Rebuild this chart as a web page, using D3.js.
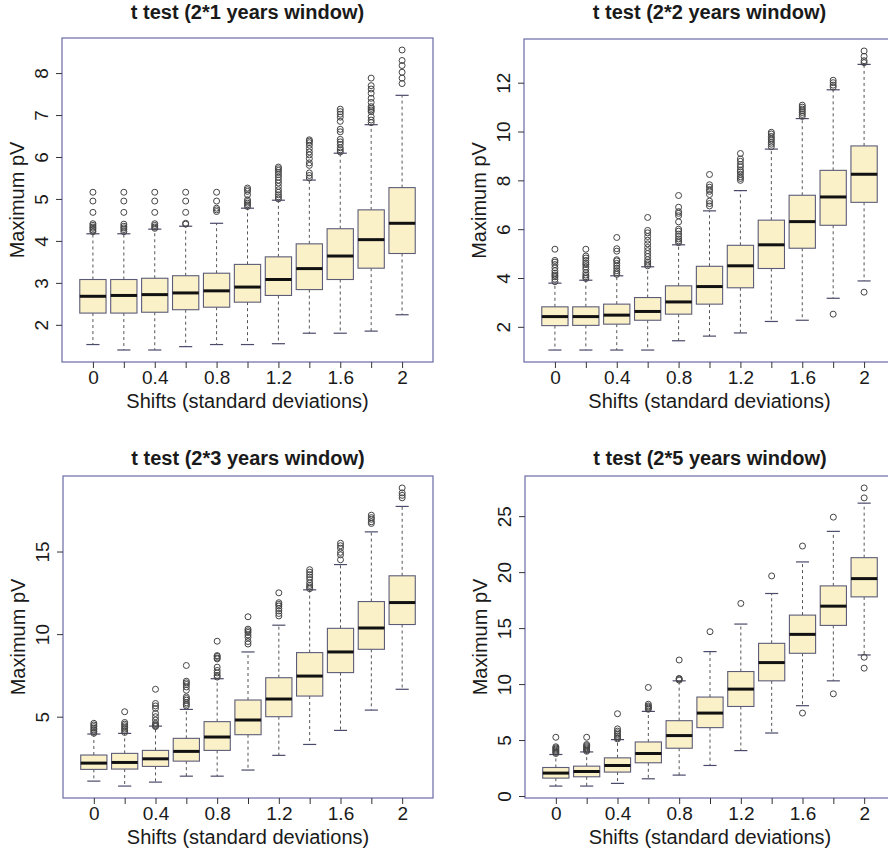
<!DOCTYPE html>
<html>
<head>
<meta charset="utf-8">
<title>t test boxplots</title>
<script src="https://d3js.org/d3.v7.min.js"></script>
<style>
  body { margin: 0; background: #fff; }
  svg text { font-family: 'Liberation Sans', Arial, sans-serif; fill: #1a1a1a; }
</style>
</head>
<body>
<svg id="chart" width="888" height="853"></svg>
<script>
// shifts (standard deviations), one box per shift
const shifts = [0, 0.2, 0.4, 0.6, 0.8, 1.0, 1.2, 1.4, 1.6, 1.8, 2.0];
const labelledShifts = [0, 0.4, 0.8, 1.2, 1.6, 2];
const titles = ["t test (2*1 years window)", "t test (2*2 years window)",
                "t test (2*3 years window)", "t test (2*5 years window)"];
const yTicks1 = [2, 3, 4, 5, 6, 7, 8];
const yTicks2 = [2, 4, 6, 8, 10, 12];
const yTicks3 = [5, 10, 15];
const yTicks4 = [0, 5, 10, 15, 20, 25];

// panel 1 : 2*1 years window
const w1Low  = [1.53, 1.40, 1.40, 1.48, 1.53, 1.53, 1.55, 1.80, 1.80, 1.85, 2.24];
const w1Q1   = [2.28, 2.28, 2.30, 2.36, 2.42, 2.54, 2.70, 2.84, 3.08, 3.35, 3.70];
const w1Med  = [2.68, 2.70, 2.72, 2.76, 2.81, 2.90, 3.08, 3.34, 3.64, 4.03, 4.42];
const w1Q3   = [3.08, 3.08, 3.11, 3.17, 3.23, 3.44, 3.62, 3.93, 4.29, 4.74, 5.27];
const w1High = [4.17, 4.17, 4.28, 4.35, 4.42, 4.78, 4.97, 5.45, 6.09, 6.77, 7.47];
const w1Out = [
  [4.22, 4.26, 4.30, 4.33, 4.37, 4.41, 4.68, 4.95, 5.16],
  [4.22, 4.27, 4.31, 4.35, 4.40, 4.68, 4.95, 5.16],
  [4.30, 4.33, 4.37, 4.41, 4.68, 4.95, 5.16],
  [4.40, 4.42, 4.68, 4.95, 5.16],
  [4.70, 4.74, 4.78, 4.95, 5.16],
  [4.82, 4.86, 4.90, 4.94, 4.98, 5.10, 5.18, 5.22, 5.26],
  [5.00, 5.05, 5.10, 5.16, 5.22, 5.30, 5.38, 5.45, 5.52, 5.58, 5.63, 5.68, 5.72, 5.76],
  [5.50, 5.56, 5.62, 5.80, 5.86, 5.96, 6.05, 6.12, 6.20, 6.28, 6.34, 6.38, 6.41],
  [6.12, 6.17, 6.22, 6.30, 6.36, 6.42, 6.60, 6.66, 6.85, 6.95, 7.02, 7.08, 7.14],
  [6.82, 6.88, 6.96, 7.08, 7.12, 7.16, 7.20, 7.30, 7.40, 7.52, 7.62, 7.70, 7.88],
  [7.75, 7.88, 8.02, 8.18, 8.30, 8.55]
];

// panel 2 : 2*2 years window
const w2Low  = [1.05, 1.05, 1.05, 1.05, 1.43, 1.62, 1.75, 2.22, 2.27, 3.17, 3.88];
const w2Q1   = [2.05, 2.06, 2.11, 2.27, 2.52, 2.93, 3.60, 4.39, 5.22, 6.16, 7.10];
const w2Med  = [2.42, 2.42, 2.48, 2.63, 3.02, 3.65, 4.50, 5.36, 6.31, 7.32, 8.25];
const w2Q3   = [2.82, 2.82, 2.93, 3.20, 3.68, 4.48, 5.34, 6.37, 7.39, 8.41, 9.41];
const w2High = [3.79, 3.91, 4.09, 4.46, 5.36, 6.75, 7.58, 9.28, 10.53, 11.71, 12.75];
const w2Out = [
  [3.85, 3.95, 4.05, 4.12, 4.20, 4.30, 4.42, 4.55, 4.65, 4.72, 5.18],
  [3.98, 4.05, 4.12, 4.22, 4.35, 4.45, 4.55, 4.62, 4.72, 4.82, 4.90, 5.18],
  [4.15, 4.22, 4.30, 4.40, 4.50, 4.60, 4.70, 4.75, 5.10, 5.20, 5.66],
  [4.50, 4.58, 4.65, 4.75, 4.88, 5.00, 5.12, 5.25, 5.40, 5.55, 5.70, 5.85, 5.95, 6.48],
  [5.45, 5.52, 5.60, 5.70, 5.80, 5.92, 6.00, 6.30, 6.55, 6.65, 6.72, 6.90, 7.38],
  [6.95, 7.05, 7.15, 7.42, 7.55, 7.62, 7.72, 7.82, 8.24],
  [8.00, 8.08, 8.15, 8.25, 8.35, 8.42, 8.55, 8.65, 8.78, 8.88, 9.10],
  [9.38, 9.48, 9.56, 9.65, 9.72, 9.80, 9.90, 9.97],
  [10.62, 10.70, 10.78, 10.85, 10.92, 11.00, 11.08],
  [11.82, 11.90, 12.00, 12.10, 2.52],
  [12.82, 12.90, 13.08, 13.30, 3.42]
];

// panel 3 : 2*3 years window
const w3Low  = [1.10, 0.80, 1.04, 1.40, 1.40, 1.77, 2.66, 3.32, 4.17, 5.40, 6.66];
const w3Q1   = [1.81, 1.83, 1.99, 2.31, 2.96, 3.91, 5.00, 6.25, 7.67, 9.08, 10.58];
const w3Med  = [2.19, 2.23, 2.45, 2.90, 3.77, 4.80, 6.07, 7.46, 8.92, 10.37, 11.91];
const w3Q3   = [2.68, 2.78, 2.96, 3.69, 4.70, 6.01, 7.36, 8.88, 10.35, 11.97, 13.53];
const w3High = [3.95, 3.99, 4.43, 5.44, 7.30, 8.92, 10.54, 12.68, 14.21, 16.19, 17.73];
const w3Out = [
  [4.00, 4.10, 4.20, 4.30, 4.40, 4.50, 4.60],
  [4.05, 4.15, 4.25, 4.35, 4.45, 4.55, 4.65, 5.30],
  [4.40, 4.45, 4.52, 4.60, 4.80, 5.00, 5.20, 5.50, 5.65, 5.80, 6.66],
  [5.65, 5.75, 5.85, 6.00, 6.10, 6.20, 6.60, 6.80, 6.95, 7.05, 7.15, 8.10],
  [7.40, 7.50, 7.65, 7.80, 8.00, 8.50, 8.55, 8.65, 8.70, 9.57],
  [9.40, 9.55, 9.80, 9.95, 10.10, 10.20, 10.30, 11.05],
  [11.10, 11.25, 11.40, 11.55, 11.70, 11.80, 11.90, 12.50],
  [12.75, 12.85, 12.95, 13.10, 13.30, 13.45, 13.60, 13.75, 13.90],
  [14.50, 14.80, 14.95, 15.20, 15.35, 15.50],
  [16.70, 16.80, 16.95, 17.05, 17.20],
  [18.25, 18.40, 18.55, 18.85]
];

// panel 4 : 2*5 years window
const w4Low  = [0.89, 0.89, 1.13, 1.54, 1.87, 2.73, 4.06, 5.63, 8.07, 10.29, 12.60];
const w4Q1   = [1.60, 1.72, 2.14, 2.97, 4.27, 6.11, 8.00, 10.29, 12.75, 15.24, 17.79];
const w4Med  = [2.05, 2.19, 2.73, 3.80, 5.40, 7.41, 9.55, 11.92, 14.44, 16.96, 19.42];
const w4Q3   = [2.55, 2.67, 3.41, 4.83, 6.73, 8.84, 11.12, 13.64, 16.16, 18.77, 21.29];
const w4High = [3.71, 3.94, 5.04, 7.56, 10.29, 12.90, 15.36, 18.09, 20.91, 23.64, 26.16];
const w4Out = [
  [3.80, 3.90, 4.00, 4.10, 4.20, 4.30, 4.40, 5.25],
  [4.00, 4.10, 4.20, 4.30, 4.40, 4.50, 4.60, 5.25],
  [5.10, 5.20, 5.35, 5.50, 5.65, 5.80, 6.00, 7.35],
  [7.75, 7.85, 7.95, 8.05, 8.20, 9.70],
  [10.35, 10.45, 10.50, 12.15],
  [14.68],
  [17.20],
  [19.66],
  [22.33, 7.41],
  [24.91, 9.13],
  [26.63, 27.52, 12.40, 11.42]
];

// panel frames (pixel layout)
const frames = [
  { left: 62,  right: 433, top: 38,  bottom: 362, titleY: 19 },
  { left: 524, right: 895, top: 39,  bottom: 362, titleY: 19 },
  { left: 63,  right: 433, top: 476, bottom: 798, titleY: 465 },
  { left: 525, right: 895, top: 476, bottom: 798, titleY: 465 }
];

const panels = [
  { low: w1Low, q1: w1Q1, med: w1Med, q3: w1Q3, high: w1High, out: w1Out, ticks: yTicks1 },
  { low: w2Low, q1: w2Q1, med: w2Med, q3: w2Q3, high: w2High, out: w2Out, ticks: yTicks2 },
  { low: w3Low, q1: w3Q1, med: w3Med, q3: w3Q3, high: w3High, out: w3Out, ticks: yTicks3 },
  { low: w4Low, q1: w4Q1, med: w4Med, q3: w4Q3, high: w4High, out: w4Out, ticks: yTicks4 }
];

const svg = d3.select("#chart");
const boxW = 0.17;          // in shift units
const fmt = d => String(+d.toFixed(1));

panels.forEach((p, k) => {
  const f = frames[k];
  const g = svg.append("g");

  const x = d3.scaleLinear().domain([-0.2, 2.2]).range([f.left, f.right]);
  const all = p.low.concat(p.high, d3.merge(p.out));
  const lo = d3.min(all), hi = d3.max(all), pad = (hi - lo) * 0.04;
  const y = d3.scaleLinear().domain([lo - pad, hi + pad]).range([f.bottom, f.top]);

  const boxes = shifts.map((s, i) => ({
    s: s, low: p.low[i], q1: p.q1[i], med: p.med[i], q3: p.q3[i], high: p.high[i], out: p.out[i]
  }));
  const half = (x(boxW) - x(0)) / 2;

  const b = g.selectAll("g.box").data(boxes).join("g").attr("class", "box");

  // whiskers
  b.append("line")
    .attr("x1", d => x(d.s)).attr("x2", d => x(d.s))
    .attr("y1", d => y(d.q3)).attr("y2", d => y(d.high))
    .attr("stroke", "#555").attr("stroke-dasharray", "3,3");
  b.append("line")
    .attr("x1", d => x(d.s)).attr("x2", d => x(d.s))
    .attr("y1", d => y(d.q1)).attr("y2", d => y(d.low))
    .attr("stroke", "#555").attr("stroke-dasharray", "3,3");
  // staples
  b.append("line")
    .attr("x1", d => x(d.s) - half / 2).attr("x2", d => x(d.s) + half / 2)
    .attr("y1", d => y(d.high)).attr("y2", d => y(d.high))
    .attr("stroke", "#4a4a6a").attr("stroke-width", 1.2);
  b.append("line")
    .attr("x1", d => x(d.s) - half / 2).attr("x2", d => x(d.s) + half / 2)
    .attr("y1", d => y(d.low)).attr("y2", d => y(d.low))
    .attr("stroke", "#4a4a6a").attr("stroke-width", 1.2);
  // box
  b.append("rect")
    .attr("x", d => x(d.s) - half).attr("width", half * 2)
    .attr("y", d => y(d.q3)).attr("height", d => y(d.q1) - y(d.q3))
    .attr("fill", "#fbf1c9").attr("stroke", "#5c5c78").attr("stroke-width", 1.1);
  // median
  b.append("line")
    .attr("x1", d => x(d.s) - half).attr("x2", d => x(d.s) + half)
    .attr("y1", d => y(d.med)).attr("y2", d => y(d.med))
    .attr("stroke", "#111").attr("stroke-width", 3);
  // outliers
  b.selectAll("circle").data(d => d.out.map(v => ({ s: d.s, v: v })))
    .join("circle")
    .attr("cx", d => x(d.s)).attr("cy", d => y(d.v)).attr("r", 3)
    .attr("fill", "none").attr("stroke", "#444").attr("stroke-width", 1);

  // frame
  g.append("rect")
    .attr("x", f.left).attr("y", f.top)
    .attr("width", f.right - f.left).attr("height", f.bottom - f.top)
    .attr("fill", "none").attr("stroke", "#6a6aa8").attr("stroke-width", 1.2);

  // x axis (R skips labels that would overlap, so only every other one)
  const xa = g.append("g").attr("transform", `translate(0,${f.bottom})`)
    .call(d3.axisBottom(x).tickValues(shifts).tickSize(6).tickPadding(3)
      .tickFormat(d => labelledShifts.some(v => Math.abs(v - d) < 1e-9) ? fmt(d) : ""));
  xa.select(".domain").remove();
  xa.selectAll(".tick line").attr("stroke", "#333");
  xa.selectAll("text").filter(function () { return this.textContent === ""; }).remove();
  xa.selectAll("text").attr("font-size", 19).attr("fill", "#1a1a1a");

  // y axis
  const ya = g.append("g").attr("transform", `translate(${f.left},0)`)
    .call(d3.axisLeft(y).tickValues(p.ticks).tickSize(6));
  ya.select(".domain").remove();
  ya.selectAll(".tick line").attr("stroke", "#333");
  ya.selectAll("text")
    .attr("x", null).attr("dy", null)
    .attr("text-anchor", "middle")
    .attr("transform", "translate(-14,0) rotate(-90)")
    .attr("font-size", 19).attr("fill", "#1a1a1a");

  // titles
  g.append("text")
    .attr("x", (f.left + f.right) / 2).attr("y", f.titleY)
    .attr("text-anchor", "middle").attr("font-size", 20).attr("font-weight", "bold")
    .text(titles[k]);
  g.append("text")
    .attr("x", (f.left + f.right) / 2).attr("y", f.bottom + 46)
    .attr("text-anchor", "middle").attr("font-size", 20)
    .text("Shifts (standard deviations)");
  g.append("text")
    .attr("transform", `translate(${f.left - 38},${(f.top + f.bottom) / 2}) rotate(-90)`)
    .attr("text-anchor", "middle").attr("font-size", 20)
    .text("Maximum pV");
});
</script>
</body>
</html>
